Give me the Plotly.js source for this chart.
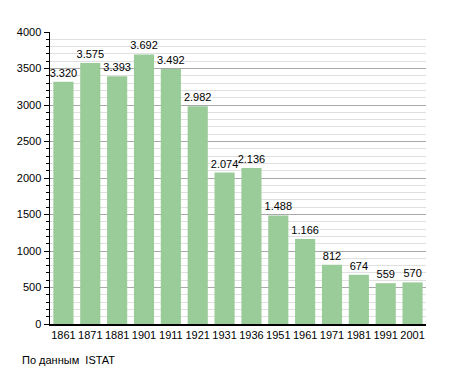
<!DOCTYPE html>
<html><head><meta charset="utf-8">
<script src="https://cdn.plot.ly/plotly-3.0.1.min.js"></script>
<style>html,body{margin:0;padding:0;background:#fff}#chart{width:455px;height:373px}</style>
</head><body><div id="chart"></div>
<script>
const years = ['1861','1871','1881','1901','1911','1921','1931','1936','1951','1961','1971','1981','1991','2001'];
const population = [3320,3575,3393,3692,3492,2982,2074,2136,1488,1166,812,674,559,570];
const sourceNote = 'По данным  ISTAT';

const trace = {
  type: 'bar', x: years, y: population,
  marker: {color: '#99cc99', line: {width: 0}},
  text: population, texttemplate: '%{y:,}', textposition: 'outside', cliponaxis: false,
  constraintext: 'none',
  textfont: {family: 'Liberation Sans, Arial, sans-serif', size: 11, color: '#000'},
  hoverinfo: 'none'
};
const layout = {
  width: 455, height: 373,
  margin: {l: 50, r: 29, t: 32, b: 49},
  separators: ',.',
  paper_bgcolor: '#fff', plot_bgcolor: '#fff',
  font: {family: 'Liberation Sans, Arial, sans-serif', size: 11, color: '#000'},
  bargap: 0.25,
  showlegend: false,
  xaxis: {type: 'category', showline: true, linecolor: '#000', linewidth: 1.5, ticks: '', showgrid: false,
    tickfont: {size: 11}, ticklabelstandoff: 0},
  yaxis: {range: [0, 4000], dtick: 500, showline: true, linecolor: '#000', linewidth: 1.5,
    ticks: 'outside', ticklen: 5, tickcolor: '#000', tickwidth: 1,
    showgrid: true, gridcolor: '#a8a8a8', gridwidth: 1, zeroline: false,
    minor: {dtick: 100, showgrid: true, gridcolor: '#e0e0e0', gridwidth: 1, ticks: 'outside', ticklen: 3, tickcolor: '#000'},
    tickfont: {size: 11}},
  annotations: [{text: sourceNote, xref: 'paper', yref: 'paper', x: -30/376, y: -36/292, xanchor: 'left', yanchor: 'middle',
    showarrow: false, font: {size: 11}}]
};
Plotly.newPlot('chart', [trace], layout, {displayModeBar: false, staticPlot: true});
</script></body></html>
